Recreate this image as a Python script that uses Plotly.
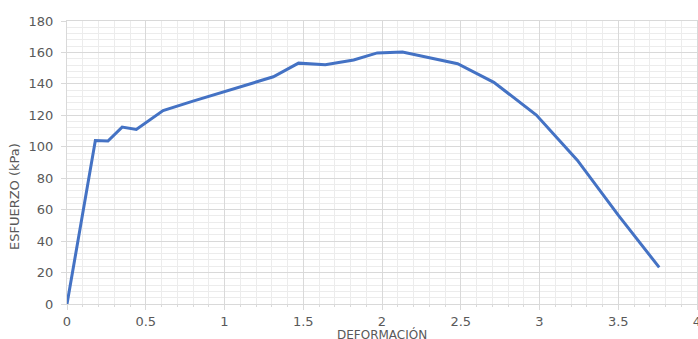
import plotly.graph_objects as go

deformacion = [0, 0.18, 0.26, 0.35, 0.44, 0.61, 0.8, 1.0, 1.31, 1.47, 1.64, 1.82, 1.97, 2.13, 2.48, 2.71, 2.98, 3.24, 3.5, 3.76]
esfuerzo = [0, 104, 103.7, 112.5, 111, 123, 129, 135, 144.5, 153.2, 152.2, 155.2, 159.7, 160.3, 152.8, 141, 120.2, 91.5, 56.5, 23.3]

x_ticks = [0, 0.5, 1, 1.5, 2, 2.5, 3, 3.5, 4]
y_ticks = [0, 20, 40, 60, 80, 100, 120, 140, 160, 180]

font_family = "DejaVu Sans, Verdana, sans-serif"
txt_color = "#595959"

fig = go.Figure()
fig.add_trace(go.Scatter(
    x=deformacion, y=esfuerzo, mode="lines",
    line=dict(color="#4472C4", width=3), showlegend=False,
))

fig.update_layout(
    width=698, height=339,
    margin=dict(l=67, r=1, t=21, b=35),
    paper_bgcolor="white", plot_bgcolor="white",
    font=dict(family=font_family, size=13, color=txt_color),
    xaxis=dict(
        range=[0, 4], tickvals=x_ticks, ticktext=[str(v) for v in x_ticks],
        showgrid=True, gridcolor="#d9d9d9", gridwidth=1,
        minor=dict(dtick=0.1, showgrid=True, gridcolor="#ececec", gridwidth=1,
                   ticks="outside", ticklen=2, tickcolor="#d9d9d9"),
        ticks="outside", ticklen=5, tickcolor="#d9d9d9",
        showline=True, linecolor="#d9d9d9", mirror=True,
        zeroline=False, tickfont=dict(size=13, color=txt_color),
        ticklabeloverflow="allow", automargin=False,
    ),
    yaxis=dict(
        range=[0, 180], tickvals=y_ticks, ticktext=[str(v) for v in y_ticks],
        showgrid=True, gridcolor="#d9d9d9", gridwidth=1,
        minor=dict(dtick=4, showgrid=True, gridcolor="#ececec", gridwidth=1),
        ticks="outside", ticklen=5, tickcolor="#d9d9d9",
        showline=True, linecolor="#d9d9d9", mirror=True,
        zeroline=False, tickfont=dict(size=13, color=txt_color),
        ticklabelstandoff=5, automargin=False,
    ),
    annotations=[
        dict(text="DEFORMACIÓN", xref="paper", yref="paper", x=0.5, y=0,
             xanchor="center", yanchor="top", yshift=-21, showarrow=False,
             font=dict(family=font_family, size=12, color=txt_color)),
        dict(text="ESFUERZO (kPa)", xref="paper", yref="paper", x=0, y=(304 - 197) / 283,
             xanchor="center", yanchor="middle", xshift=-53, textangle=-90, showarrow=False,
             font=dict(family=font_family, size=13, color=txt_color)),
    ],
)

fig.write_html(
    "out.html",
    config={"displayModeBar": False},
    post_script="document.body.style.margin='0px';document.body.style.overflow='hidden';",
)
